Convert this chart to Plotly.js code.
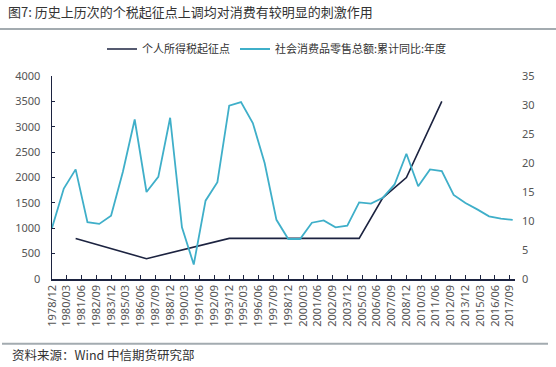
<!DOCTYPE html>
<html>
<head>
<meta charset="utf-8">
<script src="https://cdn.plot.ly/plotly-3.0.1.min.js"></script>
<style>html,body{margin:0;padding:0;background:#fff;}#chart{width:556px;height:367px;}</style>
</head>
<body>
<div id="chart"></div>
<script>
// Years of annual retail-sales data
var salesYears = [1978,1979,1980,1981,1982,1983,1984,1985,1986,1987,1988,1989,1990,1991,1992,1993,1994,1995,1996,1997,1998,1999,2000,2001,2002,2003,2004,2005,2006,2007,2008,2009,2010,2011,2012,2013,2014,2015,2016,2017];
// 社会消费品零售总额:累计同比:年度 (%)
var salesGrowth = [8.8,15.6,18.9,9.8,9.5,10.9,18.5,27.5,15.0,17.6,27.8,8.9,2.5,13.5,16.7,29.9,30.5,26.9,20.0,10.2,6.9,6.9,9.7,10.1,8.9,9.2,13.2,13.0,14.0,16.3,21.6,16.0,18.9,18.6,14.5,13.1,12.0,10.8,10.4,10.2];
// 个人所得税起征点 (元)
var taxYears = [1980,1986,1993,2004,2006,2008,2011];
var taxThreshold = [800,400,800,800,1600,2000,3500];
// x tick labels
var xTickLabels = ["1978/12","1980/03","1981/06","1982/09","1983/12","1985/03","1986/06","1987/09","1988/12","1990/03","1991/06","1992/09","1993/12","1995/03","1996/06","1997/09","1998/12","2000/03","2001/06","2002/09","2003/12","2005/03","2006/06","2007/09","2008/12","2010/03","2011/06","2012/09","2013/12","2015/03","2016/06","2017/09"];

var toDate = function(y){ return y + "-12-01"; };
var tickVals = xTickLabels.map(function(s){ return s.replace("/", "-") + "-01"; });

var cjk = '"Noto Sans CJK SC", "Noto Sans", sans-serif';
var num = '"Noto Sans", "DejaVu Sans", sans-serif';

var traces = [
  {
    x: taxYears.map(toDate), y: taxThreshold,
    name: "个人所得税起征点", type: "scatter", mode: "lines",
    line: {color: "#1c2340", width: 1.6}, yaxis: "y"
  },
  {
    x: salesYears.map(toDate), y: salesGrowth,
    name: "社会消费品零售总额:累计同比:年度", type: "scatter", mode: "lines",
    line: {color: "#3fafc9", width: 1.8}, yaxis: "y2"
  }
];

var L = 52, R = 515, T = 76, B = 279.5;
var PW = R - L, PH = B - T;
function px(x){ return (x - L) / PW; }
function py(y){ return (B - y) / PH; }

var layout = {
  width: 556, height: 367,
  margin: {l: L, r: 556 - R, t: T, b: 367 - B, pad: 0},
  paper_bgcolor: "#ffffff", plot_bgcolor: "#ffffff",
  showlegend: true,
  title: {
    text: "图7: 历史上历次的个税起征点上调均对消费有较明显的刺激作用",
    font: {family: cjk, size: 13, color: "#333333"},
    xref: "container", x: 8/556, xanchor: "left",
    yref: "container", y: 1 - 12/367, yanchor: "middle"
  },
  legend: {
    orientation: "h",
    xref: "container", yref: "container",
    x: 102/556, xanchor: "left",
    y: 1 - 49/367, yanchor: "middle",
    font: {family: cjk, size: 11, color: "#333333"},
    bgcolor: "rgba(0,0,0,0)"
  },
  xaxis: {
    type: "date",
    range: ["1978-12-01", "2018-02-10"],
    tickmode: "array", tickvals: tickVals, ticktext: xTickLabels,
    tickangle: -90,
    tickfont: {family: num, size: 11, color: "#555555"},
    showline: true, linecolor: "#1c2340", linewidth: 1.5,
    ticks: "inside", ticklen: 4, tickcolor: "#1c2340", tickwidth: 1,
    showgrid: false, zeroline: false, fixedrange: true
  },
  yaxis: {
    range: [0, 4000], dtick: 500, tick0: 0,
    tickfont: {family: num, size: 11, color: "#555555"},
    showline: true, linecolor: "#1c2340", linewidth: 1.5,
    ticks: "inside", ticklen: 3, tickcolor: "#1c2340",
    ticklabelstandoff: 8,
    showgrid: false, zeroline: false, fixedrange: true
  },
  yaxis2: {
    range: [0, 35], dtick: 5, tick0: 0,
    overlaying: "y", side: "right",
    tickfont: {family: num, size: 11, color: "#555555"},
    showline: false, ticks: "",
    ticklabelstandoff: 6,
    showgrid: false, zeroline: false, fixedrange: true
  },
  shapes: [
    {type: "line", xref: "paper", yref: "paper", x0: px(0), x1: px(556), y0: py(29), y1: py(29),
     line: {color: "#a3abb0", width: 2}},
    {type: "line", xref: "paper", yref: "paper", x0: px(2), x1: px(548), y0: py(344.5), y1: py(344.5),
     line: {color: "#a3abb0", width: 2}}
  ],
  annotations: [
    {text: "资料来源：Wind 中信期货研究部", xref: "paper", yref: "paper",
     x: px(10), y: py(355.5), xanchor: "left", yanchor: "middle", showarrow: false,
     font: {family: cjk, size: 12.5, color: "#333333"}}
  ]
};

Plotly.newPlot("chart", traces, layout, {displayModeBar: false, staticPlot: true});
</script>
</body>
</html>
